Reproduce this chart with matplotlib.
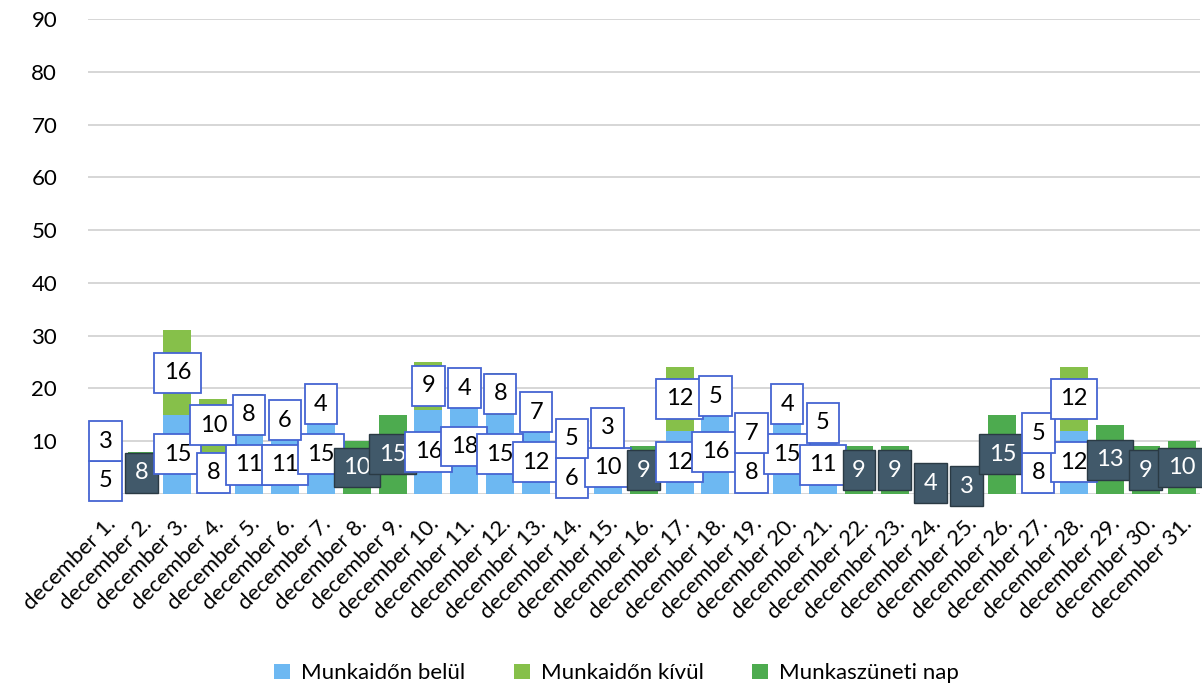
import numpy as np
import matplotlib.pyplot as plt

plt.rcParams['font.family'] = ['Lato', 'DejaVu Sans']

days = [f'december {d}.' for d in range(1, 32)]
belul = [5, 0, 15, 8, 11, 11, 15, 0, 0, 16, 18, 15, 12, 6, 10, 0,
         12, 16, 8, 15, 11, 0, 0, 0, 0, 0, 8, 12, 0, 0, 0]
kivul = [3, 0, 16, 10, 8, 6, 4, 0, 0, 9, 4, 8, 7, 5, 3, 0,
         12, 5, 7, 4, 5, 0, 0, 0, 0, 0, 5, 12, 0, 0, 0]
szuneti = [0, 8, 0, 0, 0, 0, 0, 10, 15, 0, 0, 0, 0, 0, 0, 9,
           0, 0, 0, 0, 0, 9, 9, 4, 3, 15, 0, 0, 13, 9, 10]

c_belul = '#6db8f2'
c_kivul = '#86c04a'
c_szun = '#4dab4f'

fig = plt.figure(figsize=(12.02, 6.86), dpi=100)
ax = fig.add_axes([0.073, 0.28, 0.925, 0.692])

x = np.arange(len(days))
b = np.array(belul)
k = np.array(kivul)
s = np.array(szuneti)
w = 0.78
ax.bar(x, b, w, color=c_belul, label='Munkaidőn belül', zorder=2)
ax.bar(x, k, w, bottom=b, color=c_kivul, label='Munkaidőn kívül', zorder=2)
ax.bar(x, s, w, color=c_szun, label='Munkaszüneti nap', zorder=2)

white_box = dict(boxstyle='square,pad=0.4', fc='white', ec='#4565d2', lw=1.3)
dark_box = dict(boxstyle='square,pad=0.4', fc='#41596a', ec='#2a3a44', lw=1.0)

for i in x:
    if s[i] > 0:
        ax.text(i, s[i] / 2, str(s[i]), ha='center', va='center', fontsize=17,
                color='white', bbox=dark_box, zorder=4, clip_on=False)
        continue
    lo = b[i] / 2
    hi = max(b[i] + k[i] / 2, lo + 7.5)
    ax.text(i, lo, str(b[i]), ha='center', va='center', fontsize=17,
            color='black', bbox=white_box, zorder=4, clip_on=False)
    ax.text(i, hi, str(k[i]), ha='center', va='center', fontsize=17,
            color='black', bbox=white_box, zorder=5, clip_on=False)

ax.set_xlim(-0.5, len(days) - 0.5)
ax.set_ylim(0, 90)
ax.set_yticks(range(0, 91, 10))
ax.set_yticklabels([''] + [str(v) for v in range(10, 91, 10)], fontsize=16)
ax.set_xticks(x)
ax.set_xticklabels(days, rotation=45, ha='right', rotation_mode='anchor', fontsize=16)
ax.tick_params(axis='y', length=0, pad=22)
ax.tick_params(axis='x', length=0, pad=14)
ax.grid(axis='y', color='#d0d0d0', lw=1.2, zorder=0)
for sp in ax.spines.values():
    sp.set_visible(False)

fig.legend(loc='lower center', bbox_to_anchor=(0.513, -0.025), ncol=3, frameon=False,
           fontsize=16, handlelength=0.7, handleheight=0.7, columnspacing=2.2,
           handletextpad=0.5)

plt.savefig('out.png', dpi=100)
